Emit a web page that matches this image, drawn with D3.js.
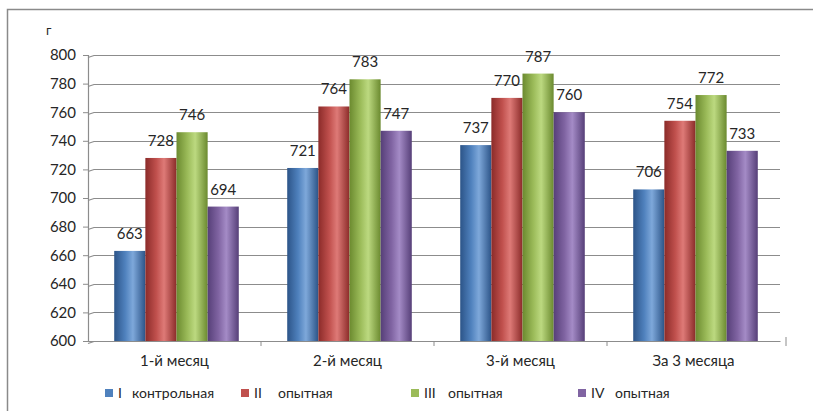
<!DOCTYPE html>
<html>
<head>
<meta charset="utf-8">
<script src="https://cdn.jsdelivr.net/npm/d3@7"></script>
<style>
  html, body { margin: 0; padding: 0; background: #fff; }
  svg { display: block; font-family: Lato, "Open Sans", sans-serif; }
</style>
</head>
<body>
<svg id="chart" width="813" height="411"></svg>
<script>
// Weight gain by period, grams
const categories = ["1-й месяц", "2-й месяц", "3-й месяц", "За 3 месяца"];
const seriesNames = ["I", "II", "III", "IV"];
const seriesLabels = ["контрольная", "опытная", "опытная", "опытная"];
const groupI   = [663, 721, 737, 706];
const groupII  = [728, 764, 770, 754];
const groupIII = [746, 783, 787, 772];
const groupIV  = [694, 747, 760, 733];
const yTicks = [600, 620, 640, 660, 680, 700, 720, 740, 760, 780, 800];
const colors = ["#4F81BD", "#C0504D", "#9BBB59", "#8064A2"];
const darkColors = ["#2C5488", "#8B2B29", "#6B8A2F", "#563F78"];
const lightColors = ["#7EA8DA", "#DE7A77", "#BCD980", "#A48BC6"];

const seriesValues = [groupI, groupII, groupIII, groupIV];

const svg = d3.select("#chart");

// frame around the chart area
svg.append("rect")
  .attr("x", 7.5).attr("y", 9.5)
  .attr("width", 820).attr("height", 420)
  .attr("fill", "#fff")
  .attr("stroke", "#8a8a8a").attr("stroke-width", 1.5);

const plotLeft = 88, plotRight = 780, plotTop = 55, plotBottom = 341;

const y = d3.scaleLinear().domain([600, 800]).range([plotBottom, plotTop]);
const x0 = d3.scaleBand().domain(categories).range([plotLeft, plotRight]).paddingInner(0).paddingOuter(0);
const groupW = x0.bandwidth() * 0.72;
const x1 = d3.scaleBand().domain(seriesNames).range([0, groupW]).padding(0);

// gradients giving the bars a rounded look
const defs = svg.append("defs");
colors.forEach((c, i) => {
  const g = defs.append("linearGradient").attr("id", "grad" + i)
    .attr("x1", "0%").attr("x2", "100%").attr("y1", "0%").attr("y2", "0%");
  g.append("stop").attr("offset", "0%").attr("stop-color", darkColors[i]);
  g.append("stop").attr("offset", "35%").attr("stop-color", c);
  g.append("stop").attr("offset", "60%").attr("stop-color", lightColors[i]);
  g.append("stop").attr("offset", "100%").attr("stop-color", darkColors[i]);
});

// horizontal gridlines with a small bevel at the wall
const grid = svg.append("g");
yTicks.forEach(t => {
  const yy = Math.round(y(t)) + 0.5;
  grid.append("path")
    .attr("d", `M${plotLeft},${yy + 2}L${plotLeft + 6},${yy}L${plotRight},${yy}`)
    .attr("fill", "none").attr("stroke", "#8c8c8c").attr("stroke-width", 1.2);
});

// y axis
const yAxis = d3.axisLeft(y).tickValues(yTicks).tickSize(5).tickPadding(7);
const ya = svg.append("g").attr("transform", `translate(${plotLeft},0)`).call(yAxis);
ya.select(".domain").attr("stroke", "#8c8c8c").attr("stroke-width", 1.2);
ya.selectAll(".tick line").attr("stroke", "#8c8c8c");
ya.selectAll("text").attr("font-size", 15).attr("fill", "#262626")
  .attr("font-family", "Lato, 'Open Sans', sans-serif");

// unit label
svg.append("text").attr("x", 46).attr("y", 35)
  .attr("font-size", 13).attr("fill", "#262626").text("г");

// bars
const groups = svg.append("g").selectAll("g")
  .data(categories).join("g")
  .attr("transform", c => `translate(${x0(c) + (x0.bandwidth() - groupW) / 2 + 2},0)`);

groups.each(function(c, ci) {
  const g = d3.select(this);
  seriesNames.forEach((s, si) => {
    const v = seriesValues[si][ci];
    g.append("rect")
      .attr("x", x1(s)).attr("y", y(v))
      .attr("width", x1.bandwidth()).attr("height", y(600) - y(v))
      .attr("fill", `url(#grad${si})`);
  });
});

// value labels
groups.each(function(c, ci) {
  const g = d3.select(this);
  seriesNames.forEach((s, si) => {
    const v = seriesValues[si][ci];
    g.append("text")
      .attr("x", x1(s) + x1.bandwidth() / 2)
      .attr("y", y(v) - 12)
      .attr("text-anchor", "middle")
      .attr("font-size", 15).attr("fill", "#262626")
      .text(v);
  });
});

// floor line and category axis
const xAxis = d3.axisBottom(x0).tickSize(0).tickPadding(14);
const xa = svg.append("g").attr("transform", `translate(0,${plotBottom})`).call(xAxis);
xa.select(".domain").attr("stroke", "#8c8c8c").attr("stroke-width", 1.2);
xa.selectAll("text").attr("font-size", 15).attr("fill", "#262626")
  .attr("font-family", "Lato, 'Open Sans', sans-serif");
// category separators
categories.forEach((c, i) => {
  if (i > 0) {
    const xx = x0(c);
    svg.append("line").attr("x1", xx).attr("x2", xx)
      .attr("y1", plotBottom).attr("y2", plotBottom + 5)
      .attr("stroke", "#8c8c8c");
  }
});
svg.append("line").attr("x1", plotRight + 6).attr("x2", plotRight + 6)
  .attr("y1", plotBottom - 4).attr("y2", plotBottom + 5).attr("stroke", "#8c8c8c");

// legend
const legendX = [105, 241, 411, 578];
const legend = svg.append("g");
seriesNames.forEach((s, i) => {
  const lx = legendX[i];
  legend.append("rect").attr("x", lx).attr("y", 389)
    .attr("width", 8).attr("height", 8).attr("fill", colors[i]);
  legend.append("text").attr("x", lx + 13).attr("y", 398)
    .attr("font-size", 14).attr("fill", "#262626").text(s);
  legend.append("text").attr("x", lx + (i === 0 ? 27 : 37)).attr("y", 398)
    .attr("font-size", 14).attr("fill", "#262626").text(seriesLabels[i]);
});
</script>
</body>
</html>
